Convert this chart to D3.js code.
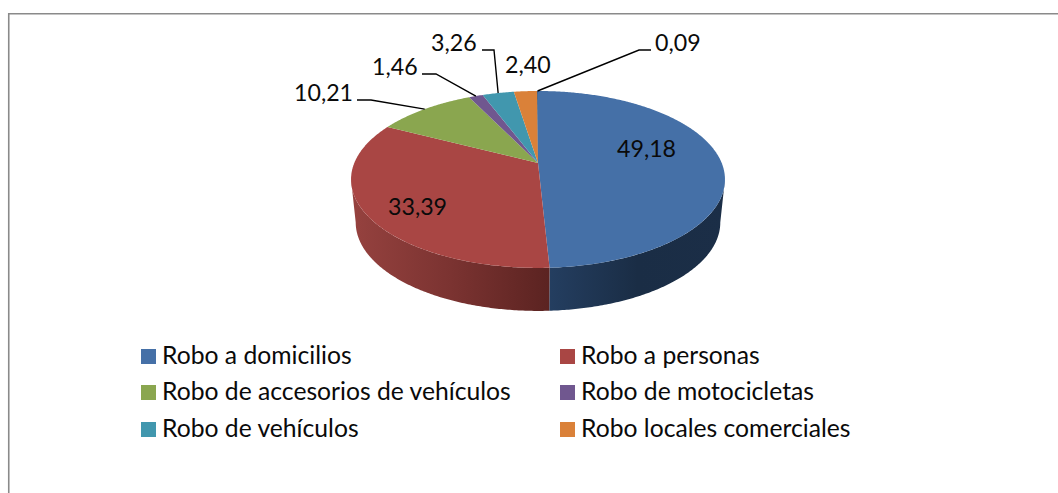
<!DOCTYPE html>
<html>
<head>
<meta charset="utf-8">
<script src="https://cdn.jsdelivr.net/npm/d3@7"></script>
<style>
  html, body { margin: 0; padding: 0; background: #fff; overflow: hidden; }
  text { font-family: Lato, "Open Sans", sans-serif; fill: #0a0a0a; }
  .value { font-size: 23.2px; }
  .legend-label { font-size: 24.7px; }
</style>
</head>
<body>
<svg></svg>
<script>
const width = 1058;
const height = 493;

// 7 values but only 6 legend entries, the last slice is unnamed in the source
const categories = ["Robo a domicilios", "Robo a personas", "Robo de accesorios de vehículos",
    "Robo de motocicletas", "Robo de vehículos", "Robo locales comerciales"];
const values = [49.18, 33.39, 10.21, 1.46, 3.26, 2.40, 0.09];
const valueLabels = ["49,18", "33,39", "10,21", "1,46", "3,26", "2,40", "0,09"];
const colors = ["#4570a7", "#a94644", "#8aa64f", "#70578f", "#4197ae", "#da8139", "#2c4d75"];

// pie geometry, with a bit of perspective so the centre sits above the ellipse middle
const cx = 538, cy = 163;
const ax = 183.7, ay = 85.4, k = 0.186;
const depth = 43, bottomScale = 0.975;
// angle where the top ellipse is widest, measured from the front of the pie
const sideAngle = Math.asin(k);

const svg = d3.select("svg")
    .attr("width", width)
    .attr("height", height)
    .style("display", "block");

const defs = svg.append("defs");

function project(a) {
    const X = Math.sin(a), Y = -Math.cos(a);
    const w = 1 - k * Y;
    return [cx + ax * X / w, cy + ay * Y / w];
}
function projectBottom(a) {
    const p = project(a);
    return [cx + (p[0] - cx) * bottomScale, p[1] + depth];
}
function angles(a0, a1) {
    const n = Math.max(2, Math.ceil(Math.abs(a1 - a0) / 0.01));
    return d3.range(n + 1).map(i => a0 + (a1 - a0) * i / n);
}

const line = d3.line();
const slices = d3.pie().sort(null).value(d => d)(values);

// frame, only the left and top edges are inside the crop
svg.append("path")
    .attr("d", `M8.75,${height} V13.75 H${width}`)
    .attr("fill", "none")
    .attr("stroke", "#8a8a8a")
    .attr("stroke-width", 1.6);

// wall gradients
const wallStops = [
    { id: "wall-red", x1: 351, x2: 550, stops: ["#96423f", "#7b3331", "#5b2321"] },
    { id: "wall-blue", x1: 550, x2: 725, stops: ["#243e60", "#1a2d45", "#1b2e47"] }
];
wallStops.forEach(w => {
    const g = defs.append("linearGradient")
        .attr("id", w.id)
        .attr("gradientUnits", "userSpaceOnUse")
        .attr("x1", w.x1).attr("x2", w.x2)
        .attr("y1", 0).attr("y2", 0);
    g.selectAll("stop").data(w.stops).enter().append("stop")
        .attr("offset", (d, i) => i / (w.stops.length - 1))
        .attr("stop-color", d => d);
});

// walls: only the first two slices reach the front of the pie
const walls = [
    { fill: "url(#wall-blue)", from: Math.PI / 2 + sideAngle, to: slices[0].endAngle },
    { fill: "url(#wall-red)", from: slices[1].startAngle, to: Math.PI * 1.5 - sideAngle }
];
svg.append("g").selectAll("path")
    .data(walls)
    .enter().append("path")
    .attr("fill", d => d.fill)
    .attr("d", d => {
        const as = angles(d.from, d.to);
        return line(as.map(project).concat(as.slice().reverse().map(projectBottom))) + "Z";
    });

// top face
svg.append("g").selectAll("path")
    .data(slices)
    .enter().append("path")
    .attr("fill", (d, i) => colors[i])
    .attr("d", d => line([[cx, cy]].concat(angles(d.startAngle, d.endAngle).map(project))) + "Z");

// labels: x is the left edge of the text, baseline y; lx/ly is where the leader elbow starts
const labelPos = [
    { x: 617, y: 157 },
    { x: 388, y: 215 },
    { x: 294, y: 101, lx: 357, ly: 100, ex: 371 },
    { x: 372, y: 75, lx: 422, ly: 74, ex: 436 },
    { x: 431, y: 51, lx: 482, ly: 50, ex: 494 },
    { x: 505, y: 73 },
    { x: 655, y: 51, lx: 651, ly: 50, ex: 639 }
];

svg.append("g").selectAll("path")
    .data(slices.filter((d, i) => labelPos[i].lx !== undefined))
    .enter().append("path")
    .attr("fill", "none")
    .attr("stroke", "#000")
    .attr("stroke-width", 1.4)
    .attr("d", d => {
        const p = labelPos[d.index];
        return line([[p.lx, p.ly], [p.ex, p.ly], project((d.startAngle + d.endAngle) / 2)]);
    });

svg.append("g").selectAll("text")
    .data(valueLabels)
    .enter().append("text")
    .attr("class", "value")
    .attr("x", (d, i) => labelPos[i].x)
    .attr("y", (d, i) => labelPos[i].y)
    .text(d => d);

// legend
const legendX = [141, 560];
const legendY = [349, 385, 422];
const legend = svg.append("g").selectAll("g")
    .data(categories)
    .enter().append("g")
    .attr("transform", (d, i) => `translate(${legendX[i % 2]},${legendY[Math.floor(i / 2)]})`);

legend.append("rect")
    .attr("width", 15)
    .attr("height", 15)
    .attr("fill", (d, i) => colors[i]);

legend.append("text")
    .attr("class", "legend-label")
    .attr("x", 21)
    .attr("y", 15)
    .text(d => d);
</script>
</body>
</html>
